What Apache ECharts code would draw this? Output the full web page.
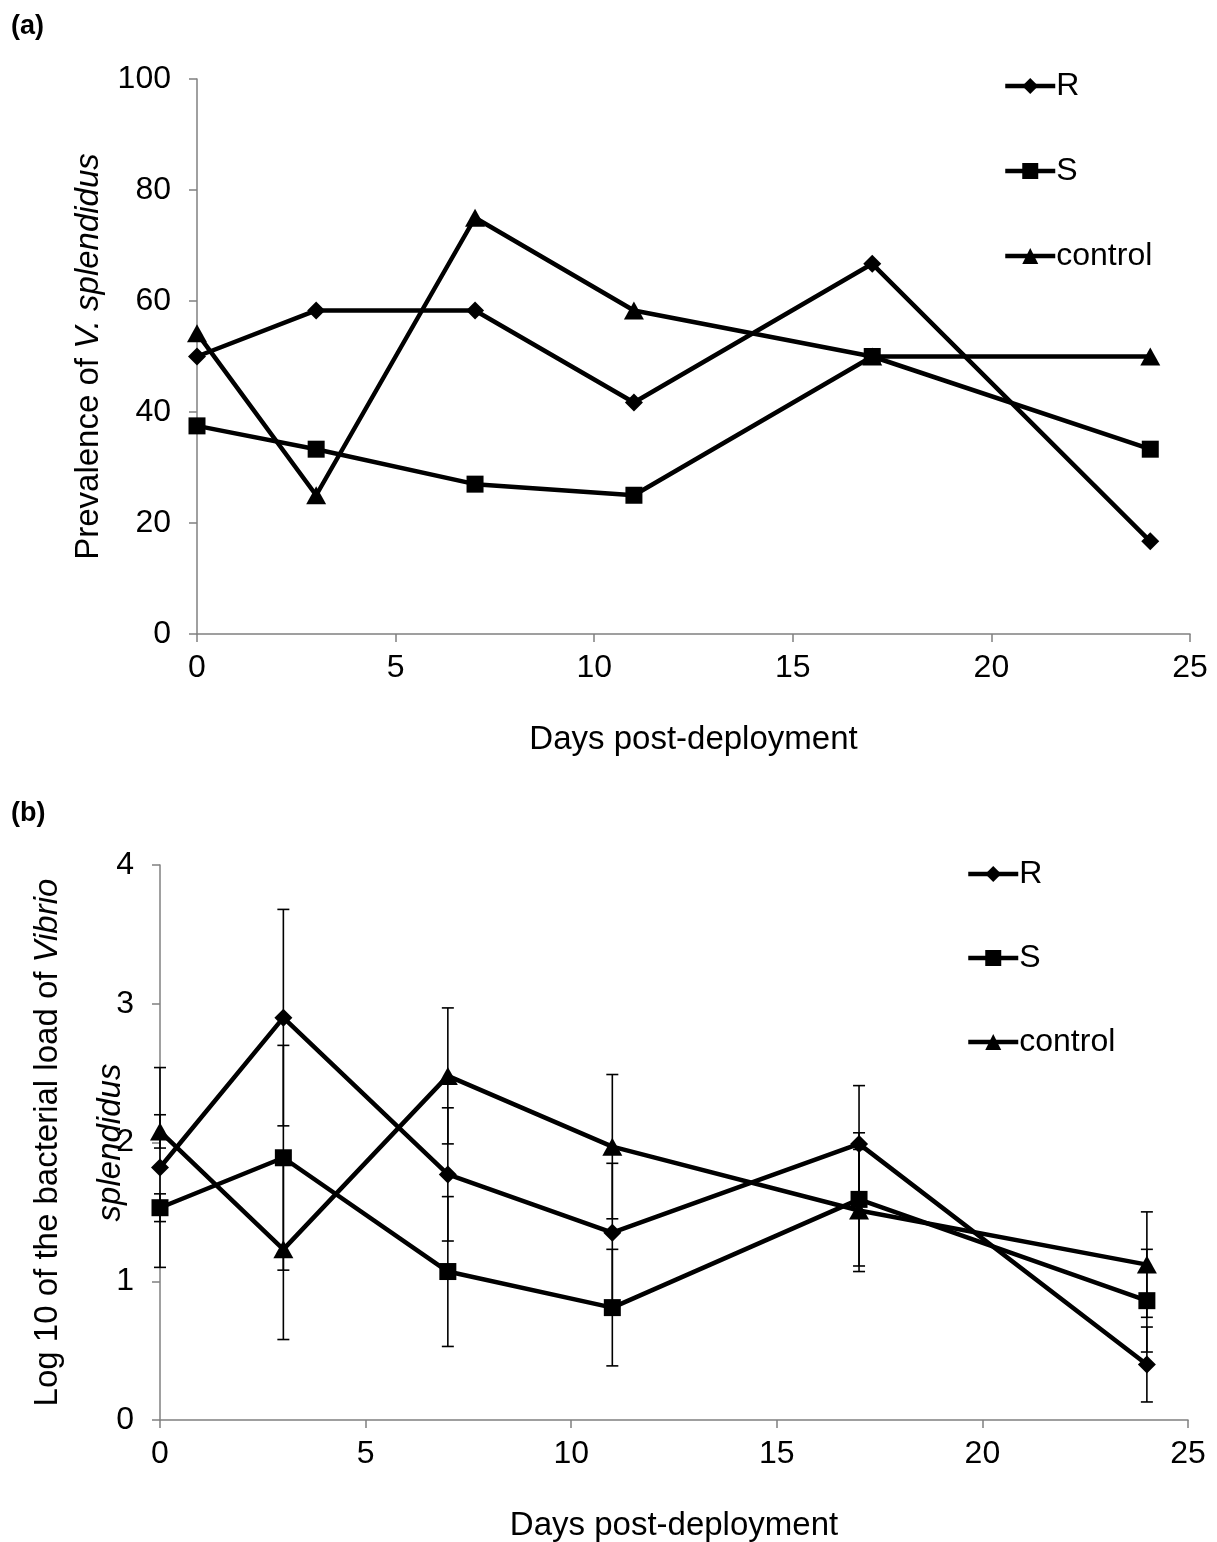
<!DOCTYPE html>
<html>
<head>
<meta charset="utf-8">
<script src="https://cdn.jsdelivr.net/npm/echarts@6/dist/echarts.min.js"></script>
<style>
html,body{margin:0;padding:0;background:#fff;}
#c{width:1217px;height:1542px;}
</style>
</head>
<body>
<div id="c"></div>
<script>
// ---------- data ----------
const days = [0, 3, 7, 11, 17, 24];
const seriesNames = ['R', 'S', 'control'];
// Panel (a): prevalence (%)
const prevR = [50, 58.3, 58.3, 41.7, 66.7, 16.7];
const prevS = [37.5, 33.3, 27, 25, 50, 33.3];
const prevC = [54.2, 25, 75, 58.3, 50, 50];
// Panel (b): log10 bacterial load
const loadR = [1.82, 2.90, 1.77, 1.35, 1.99, 0.40];
const loadS = [1.53, 1.89, 1.07, 0.81, 1.59, 0.86];
const loadC = [2.08, 1.23, 2.48, 1.97, 1.51, 1.12];
// error (± half-length) for panel (b)
const errR = [0.72, 0.78, 0.48, 0.50, 0.42, 0.27];
const errS = [0.10, 0.81, 0.54, 0.42, 0.48, 0.37];
const errC = [0.12, 0.65, 0.49, 0.52, 0.44, 0.38];
const xTicks = [0, 5, 10, 15, 20, 25];
const yTicksA = [0, 20, 40, 60, 80, 100];
const yTicksB = [0, 1, 2, 3, 4];

// ---------- helpers ----------
const FONT = '"Liberation Sans", Arial, sans-serif';
const FS = 32;
const NFS = 33;
const symbols = {R: 'diamond', S: 'rect', control: 'triangle'};
const symSize = {R: [18, 18], S: [17, 17], control: [20, 18]};

function pairs(vals) { return days.map((d, i) => [d, vals[i]]); }
function errData(vals, errs) { return days.map((d, i) => [d, vals[i] - errs[i], vals[i] + errs[i]]); }

function lineSeries(name, vals, idx) {
  return {
    type: 'line', name: name, xAxisIndex: idx, yAxisIndex: idx,
    data: pairs(vals), symbol: symbols[name], symbolSize: symSize[name],
    lineStyle: {color: '#000', width: 4.5}, itemStyle: {color: '#000'},
    z: 3, animation: false
  };
}

function errSeries(name, vals, errs) {
  return {
    type: 'custom', name: name, xAxisIndex: 1, yAxisIndex: 1, z: 2,
    data: errData(vals, errs), animation: false,
    renderItem: function (params, api) {
      const x = api.value(0);
      const p1 = api.coord([x, api.value(1)]);
      const p2 = api.coord([x, api.value(2)]);
      const w = 6;
      const st = {stroke: '#000', lineWidth: 1.6};
      return {type: 'group', children: [
        {type: 'line', shape: {x1: p1[0], y1: p1[1], x2: p2[0], y2: p2[1]}, style: st},
        {type: 'line', shape: {x1: p1[0] - w, y1: p1[1], x2: p1[0] + w, y2: p1[1]}, style: st},
        {type: 'line', shape: {x1: p2[0] - w, y1: p2[1], x2: p2[0] + w, y2: p2[1]}, style: st}
      ]};
    }
  };
}

const axisCommon = {
  axisLine: {show: true, onZero: false, lineStyle: {color: '#808080', width: 1.5}},
  axisTick: {show: true, length: 8, lineStyle: {color: '#808080', width: 1.5}},
  splitLine: {show: false},
  nameMoveOverlap: false,
  axisLabel: {color: '#000', fontSize: FS, fontFamily: FONT},
  nameTextStyle: {color: '#000', fontSize: NFS, fontFamily: FONT}
};

function xAxis(idx) {
  return Object.assign({}, axisCommon, {
    type: 'value', gridIndex: idx, min: xTicks[0], max: xTicks[xTicks.length - 1], interval: 5,
    name: 'Days post-deployment', nameLocation: 'middle', nameGap: 89,
    axisLabel: Object.assign({}, axisCommon.axisLabel, {margin: 18})
  });
}

function legend(left, top, gap) {
  return {
    orient: 'vertical', left: left, top: top, itemGap: gap, itemWidth: 50, itemHeight: 20,
    data: seriesNames, selectedMode: false,
    lineStyle: {width: 4.5, color: '#000'},
    textStyle: {fontSize: FS, color: '#000', fontFamily: FONT, padding: [0, 0, 0, -4]}
  };
}

const option = {
  backgroundColor: '#fff',
  animation: false,
  title: [
    {text: '(a)', left: 6, top: 8, textStyle: {fontSize: 27, fontWeight: 'bold', color: '#000', fontFamily: FONT}},
    {text: '(b)', left: 6, top: 795, textStyle: {fontSize: 27, fontWeight: 'bold', color: '#000', fontFamily: FONT}}
  ],
  grid: [
    {left: 197, right: 27, top: 79, bottom: 908, outerBoundsMode: 'none', containLabel: false},
    {left: 160, right: 29, top: 865, bottom: 122, outerBoundsMode: 'none', containLabel: false}
  ],
  legend: [legend(998, 65, 53), legend(961, 853, 52)],
  xAxis: [xAxis(0), xAxis(1)],
  yAxis: [
    Object.assign({}, axisCommon, {
      type: 'value', gridIndex: 0, min: yTicksA[0], max: yTicksA[yTicksA.length - 1], interval: 20,
      name: '{n|Prevalence of }{i|V. splendidus}', nameLocation: 'middle', nameGap: 92,
      nameTextStyle: {color: '#000', fontSize: NFS, fontFamily: FONT,
        rich: {n: {fontSize: NFS, fontFamily: FONT, color: '#000'}, i: {fontSize: NFS, fontFamily: FONT, color: '#000', fontStyle: 'italic'}}},
      axisLabel: Object.assign({}, axisCommon.axisLabel, {margin: 26})
    }),
    Object.assign({}, axisCommon, {
      type: 'value', gridIndex: 1, min: yTicksB[0], max: yTicksB[yTicksB.length - 1], interval: 1,
      name: '{n|Log 10 of the bacterial load of }{i|Vibrio}\n{i|splendidus}', nameLocation: 'middle', nameGap: 18,
      nameTextStyle: {color: '#000', fontSize: NFS, fontFamily: FONT, lineHeight: 63,
        rich: {n: {fontSize: NFS, fontFamily: FONT, color: '#000', lineHeight: 63}, i: {fontSize: NFS, fontFamily: FONT, color: '#000', fontStyle: 'italic', lineHeight: 63}}},
      axisLabel: Object.assign({}, axisCommon.axisLabel, {margin: 26})
    })
  ],
  series: [
    lineSeries('R', prevR, 0),
    lineSeries('S', prevS, 0),
    lineSeries('control', prevC, 0),
    errSeries('R', loadR, errR),
    errSeries('S', loadS, errS),
    errSeries('control', loadC, errC),
    lineSeries('R', loadR, 1),
    lineSeries('S', loadS, 1),
    lineSeries('control', loadC, 1)
  ]
};

const chart = echarts.init(document.getElementById('c'), null, {renderer: 'canvas'});
chart.setOption(option);
</script>
</body>
</html>
